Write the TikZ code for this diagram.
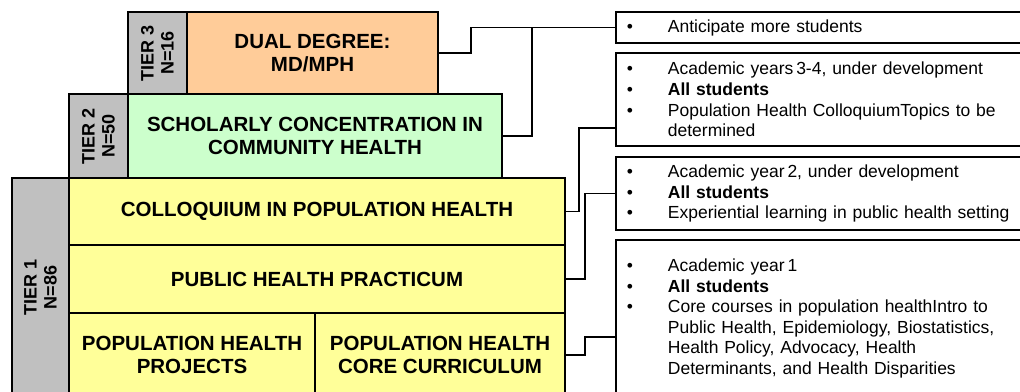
\documentclass[tikz,border=0pt]{standalone}
\usepackage{fontspec}
\setmainfont{Liberation Sans}
\definecolor{tiergray}{HTML}{C0C0C0}
\definecolor{dualorange}{HTML}{FFCC99}
\definecolor{concgreen}{HTML}{CCFFCC}
\definecolor{tieryellow}{HTML}{FFFF99}
\newcommand\bul{\makebox[41pt][l]{\textbullet}}
\newcommand\ind{\hspace*{41pt}}
\tikzset{
  frame/.style={draw=black, line width=1.8pt},
  tierlab/.style={frame, fill=tiergray, rotate=90, align=center, inner sep=0pt,
    font=\bfseries\fontsize{18}{20}\selectfont},
  block/.style={frame, align=center, inner sep=0pt,
    font=\bfseries\fontsize{20.5}{23.5}\selectfont},
  note/.style={frame, fill=white, anchor=west, align=left, text width=420pt,
    inner xsep=11pt, inner ysep=0pt, font=\fontsize{17.5}{20.6}\selectfont},
  link/.style={line width=1.8pt}
}
\begin{document}
\begin{tikzpicture}[x=1pt,y=-1pt]
\useasboundingbox (0,0) rectangle (1020,391);
\clip (0,0) rectangle (1020,391);
% tier 3
\node[tierlab, minimum width=82pt, minimum height=59pt] (t3) at (157.5,53) {TIER 3\\N=16};
\node[block, fill=dualorange, minimum width=251pt, minimum height=82pt] (dual) at (312.5,53) {DUAL DEGREE:\\MD/MPH};
% tier 2
\node[tierlab, minimum width=84pt, minimum height=59pt] (t2) at (98.5,136) {TIER 2\\N=50};
\node[block, fill=concgreen, minimum width=374pt, minimum height=84pt] (conc) at (315,136) {SCHOLARLY CONCENTRATION IN\\COMMUNITY HEALTH};
% tier 1
\node[tierlab, minimum width=219pt, minimum height=57pt] (t1) at (40.5,287.5) {TIER 1\\N=86};
\node[block, fill=tieryellow, minimum width=496pt, minimum height=67pt] (coll) at (317,211.5) {COLLOQUIUM IN POPULATION HEALTH};
\node[block, fill=tieryellow, minimum width=496pt, minimum height=68pt] (prac) at (317,279) {PUBLIC HEALTH PRACTICUM};
\node[block, fill=tieryellow, minimum width=246pt, minimum height=84pt] (proj) at (192,355) {POPULATION HEALTH\\PROJECTS};
\node[block, fill=tieryellow, minimum width=250pt, minimum height=84pt] (core) at (440,355) {POPULATION HEALTH\\CORE CURRICULUM};
% notes
\node[note, minimum height=31pt] (n1) at (615,27.5) {\bul Anticipate more students};
\node[note, minimum height=93pt] (n2) at (615,99.5) {\bul Academic years\,3-4, under development\\
\bul \textbf{All students}\\
\bul Population Health ColloquiumTopics to be\\
\ind determined};
\node[note, minimum height=73pt] (n3) at (615,193.5) {\bul Academic year\,2, under development\\
\bul \textbf{All students}\\
\bul Experiential learning in public health setting};
\node[note, minimum height=157pt] (n4) at (615,318.5) {\bul Academic year\,1\\
\bul \textbf{All students}\\
\bul Core courses in population healthIntro to\\
\ind Public Health, Epidemiology, Biostatistics,\\
\ind Health Policy, Advocacy, Health\\
\ind Determinants, and Health Disparities};
% connectors
\coordinate (c1) at (471,27.5);
\coordinate (c1b) at (532,27.5);
\coordinate (c2) at (579,128);
\coordinate (c3) at (585,193.5);
\coordinate (c4) at (585,337);
\draw[link] (dual.east) -| (c1) -- (n1.west);
\draw[link] (conc.east) -| (c1b);
\draw[link] (coll.east) -| (c2) -- (c2 -| n2.west);
\draw[link] (prac.east) -| (c3) -- (n3.west);
\draw[link] (core.east) -| (c4) -- (c4 -| n4.west);
\end{tikzpicture}
\end{document}
